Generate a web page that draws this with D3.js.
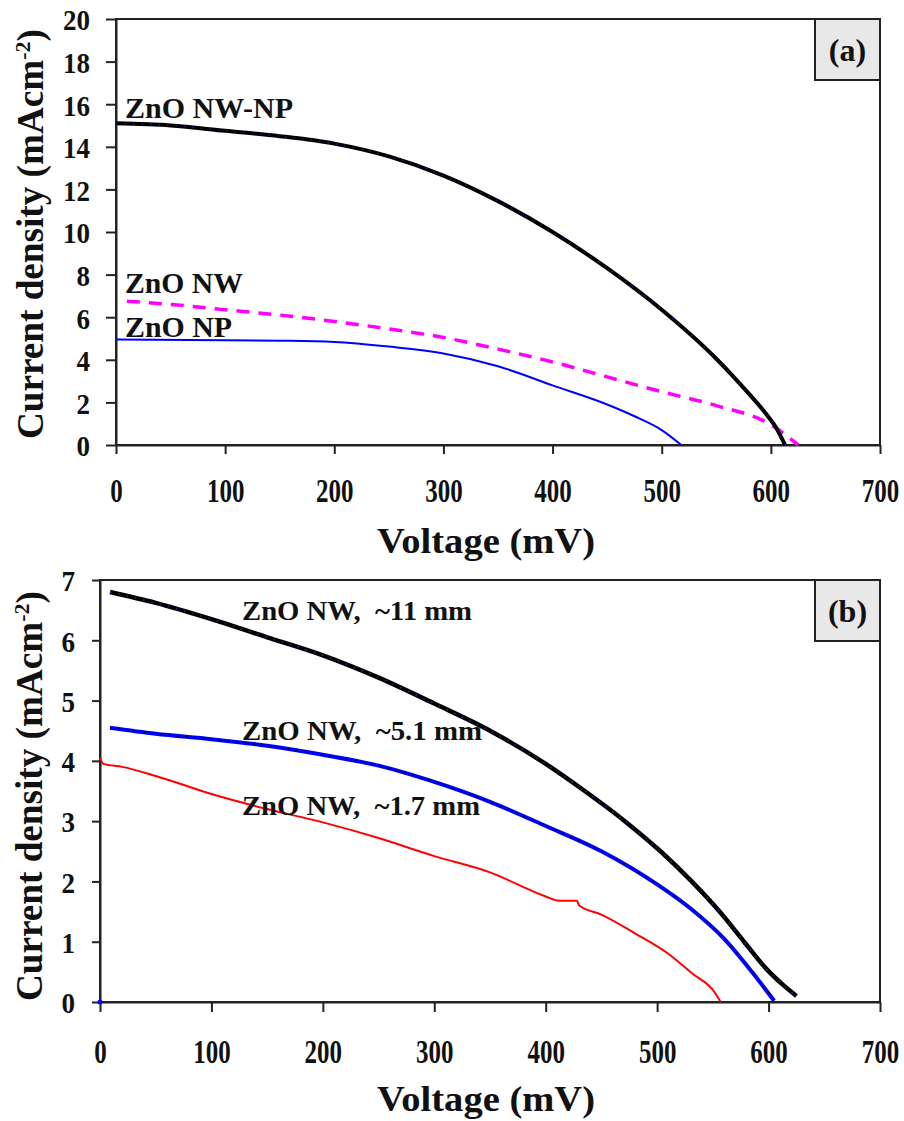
<!DOCTYPE html>
<html>
<head>
<meta charset="utf-8">
<script src="https://cdn.jsdelivr.net/npm/d3@7"></script>
<style>
  body { margin: 0; background: #fff; }
  svg { display: block; }
  text { font-family: "Liberation Serif", "Times New Roman", serif; font-weight: bold; fill: #111; white-space: pre; }
</style>
</head>
<body>
<div id="chart"></div>
<script>
// ---- data ----
// panel (a)
var voltageNWNP = [0, 50, 100, 150, 200, 250, 300, 350, 400, 450, 500, 550, 565, 580, 595, 605, 613];
var currentNWNP = [15.1, 15.0, 14.75, 14.5, 14.15, 13.55, 12.65, 11.45, 10.0, 8.3, 6.35, 4.05, 3.25, 2.4, 1.5, 0.8, 0];
var voltageNW = [10, 50, 100, 150, 200, 250, 300, 350, 400, 450, 500, 550, 600, 625];
var currentNW = [6.75, 6.6, 6.35, 6.1, 5.8, 5.45, 5.05, 4.5, 3.9, 3.2, 2.5, 1.85, 0.95, 0];
var voltageNP = [0, 100, 150, 200, 250, 300, 350, 400, 450, 475, 500, 518];
var currentNP = [4.95, 4.92, 4.9, 4.84, 4.62, 4.3, 3.7, 2.8, 1.9, 1.35, 0.7, 0];
// panel (b)
var voltage11 = [9, 50, 100, 150, 200, 250, 300, 350, 400, 435, 471, 503, 531, 556, 578, 598, 612, 625];
var current11 = [6.8, 6.62, 6.35, 6.05, 5.75, 5.38, 4.95, 4.5, 3.95, 3.5, 3.0, 2.5, 2.0, 1.5, 1.0, 0.55, 0.3, 0.1];
var voltage51 = [9, 50, 100, 150, 200, 250, 300, 350, 400, 450, 500, 530, 560, 585, 605];
var current51 = [4.55, 4.45, 4.36, 4.25, 4.1, 3.92, 3.65, 3.32, 2.92, 2.5, 1.95, 1.55, 1.05, 0.5, 0.02];
var voltage17 = [0, 3, 20, 50, 100, 150, 200, 250, 300, 350, 400, 412, 428, 430, 450, 480, 510, 531, 552, 557];
var current17 = [4.05, 3.95, 3.9, 3.75, 3.45, 3.2, 2.98, 2.72, 2.42, 2.15, 1.75, 1.68, 1.68, 1.6, 1.45, 1.14, 0.8, 0.48, 0.15, 0];

var xTicks = [0, 100, 200, 300, 400, 500, 600, 700];
var yTicksA = [0, 2, 4, 6, 8, 10, 12, 14, 16, 18, 20];
var yTicksB = [0, 1, 2, 3, 4, 5, 6, 7];

var labelsA = ["ZnO NW-NP", "ZnO NW", "ZnO NP"];
var labelsB = ["ZnO NW,  ~11 mm", "ZnO NW,  ~5.1 mm", "ZnO NW,  ~1.7 mm"];

function zip(xs, ys) {
    return xs.map(function(v, i) { return { v: v, j: ys[i] }; });
}

var svg = d3.select("#chart").append("svg")
    .attr("width", 904)
    .attr("height", 1121);

function drawPanel(cfg) {
    var x = d3.scaleLinear().domain([0, 700]).range([cfg.left, cfg.right]);
    var y = d3.scaleLinear().domain([0, cfg.ymax]).range([cfg.bottom, cfg.top]);
    var g = svg.append("g");

    // frame
    g.append("rect")
        .attr("x", cfg.left).attr("y", cfg.top)
        .attr("width", cfg.right - cfg.left).attr("height", cfg.bottom - cfg.top)
        .attr("fill", "none").attr("stroke", "#222").attr("stroke-width", 2);

    // y axis
    var ya = g.append("g")
        .attr("transform", "translate(" + cfg.left + ",0)")
        .call(d3.axisLeft(y).tickValues(cfg.yTicks).tickSize(cfg.yTickSize)
            .tickPadding(cfg.yPad).tickSizeOuter(0).tickFormat(d3.format("d")));
    ya.select(".domain").attr("stroke", "#222").attr("stroke-width", 2);
    ya.selectAll(".tick line").attr("stroke", "#222").attr("stroke-width", 2);
    ya.selectAll(".tick text")
        .attr("font-size", 30).attr("font-family", null)
        .attr("dy", "0.36em")
        .attr("textLength", function(d) { return String(d).length * 13.5; })
        .attr("lengthAdjust", "spacingAndGlyphs");

    // x axis (labels are tall and narrow, so stretch them vertically)
    var xa = g.append("g")
        .attr("transform", "translate(0," + cfg.bottom + ")")
        .call(d3.axisBottom(x).tickValues(xTicks).tickSize(cfg.xTickSize).tickSizeOuter(0));
    xa.select(".domain").attr("stroke", "#222").attr("stroke-width", 2);
    xa.selectAll(".tick line").attr("stroke", "#222").attr("stroke-width", 2);
    xa.selectAll(".tick text")
        .attr("font-size", 25).attr("font-family", null)
        .attr("transform", "scale(1,1.35)")
        .attr("y", cfg.xLabelY / 1.35).attr("dy", null)
        .attr("textLength", function(d) { return String(d).length * 12.5; })
        .attr("lengthAdjust", "spacingAndGlyphs");

    // axis titles
    var yt = g.append("text")
        .attr("transform", "translate(" + cfg.yTitleX + "," + cfg.yTitleY + ") rotate(-90)")
        .attr("text-anchor", "middle")
        .attr("font-size", 37)
        .attr("textLength", 410)
        .attr("lengthAdjust", "spacingAndGlyphs");
    yt.append("tspan").text("Current density (mAcm");
    yt.append("tspan").attr("dy", -13).attr("font-size", 22).text("-2");
    yt.append("tspan").attr("dy", 13).text(")");

    g.append("text")
        .attr("x", 486).attr("y", cfg.xTitleY)
        .attr("text-anchor", "middle")
        .attr("font-size", 36)
        .attr("textLength", 218)
        .attr("lengthAdjust", "spacingAndGlyphs")
        .text("Voltage (mV)");

    // panel tag
    g.append("rect")
        .attr("x", cfg.right - 65).attr("y", cfg.top)
        .attr("width", 65).attr("height", 61)
        .attr("fill", "#e8e8e8").attr("stroke", "#222").attr("stroke-width", 2);
    g.append("text")
        .attr("x", cfg.right - 32.5).attr("y", cfg.top + 42)
        .attr("text-anchor", "middle")
        .attr("font-size", 32)
        .text(cfg.tag);

    var line = d3.line()
        .x(function(d) { return x(d.v); })
        .y(function(d) { return y(d.j); })
        .curve(d3.curveMonotoneX);

    cfg.series.forEach(function(s) {
        g.append("path")
            .datum(zip(s.v, s.j))
            .attr("d", line)
            .attr("fill", "none")
            .attr("stroke", s.color)
            .attr("stroke-width", s.width)
            .attr("stroke-dasharray", s.dash || null);
        if (s.dots) {
            // marker look on top of the thick lines
            g.append("path")
                .datum(zip(s.v, s.j))
                .attr("d", line)
                .attr("fill", "none")
                .attr("stroke", s.dots)
                .attr("stroke-width", 1.6)
                .attr("stroke-dasharray", "1.5 7");
        }
    });

    if (cfg.origin) {
        g.append("circle")
            .attr("cx", x(0)).attr("cy", y(0)).attr("r", 2.5)
            .attr("fill", cfg.origin);
    }

    cfg.labels.forEach(function(l) {
        g.append("text")
            .attr("x", l.x).attr("y", l.y)
            .attr("font-size", l.size)
            .attr("textLength", l.len)
            .attr("lengthAdjust", "spacingAndGlyphs")
            .text(l.text);
    });
}

drawPanel({
    left: 116, right: 880, top: 19, bottom: 445, ymax: 20,
    yTicks: yTicksA, yTickSize: 10, yPad: 16, xTickSize: 9, xLabelY: 57,
    yTitleX: 43, yTitleY: 234, xTitleY: 553, tag: "(a)",
    series: [
        { v: voltageNP, j: currentNP, color: "#0000ff", width: 2 },
        { v: voltageNW, j: currentNW, color: "#ff00ff", width: 3.5, dash: "13 9" },
        { v: voltageNWNP, j: currentNWNP, color: "#000", width: 4, dots: "#1c1c7a" }
    ],
    labels: [
        { text: labelsA[0], x: 125, y: 118, size: 30, len: 168 },
        { text: labelsA[1], x: 125, y: 293, size: 30, len: 118 },
        { text: labelsA[2], x: 125, y: 337, size: 30, len: 107 }
    ]
});

drawPanel({
    left: 100, right: 880, top: 580, bottom: 1002, ymax: 7,
    yTicks: yTicksB, yTickSize: 8, yPad: 17, xTickSize: 10, xLabelY: 61,
    yTitleX: 42, yTitleY: 796, xTitleY: 1111, tag: "(b)", origin: "#0000ff",
    series: [
        { v: voltage17, j: current17, color: "#ff0000", width: 2 },
        { v: voltage51, j: current51, color: "#0000ff", width: 4, dots: "#000" },
        { v: voltage11, j: current11, color: "#000", width: 4.5, dots: "#2a2a9a" }
    ],
    labels: [
        { text: labelsB[0], x: 242, y: 620, size: 27, len: 230 },
        { text: labelsB[1], x: 242, y: 740, size: 27, len: 240 },
        { text: labelsB[2], x: 242, y: 815, size: 27, len: 238 }
    ]
});
</script>
</body>
</html>
